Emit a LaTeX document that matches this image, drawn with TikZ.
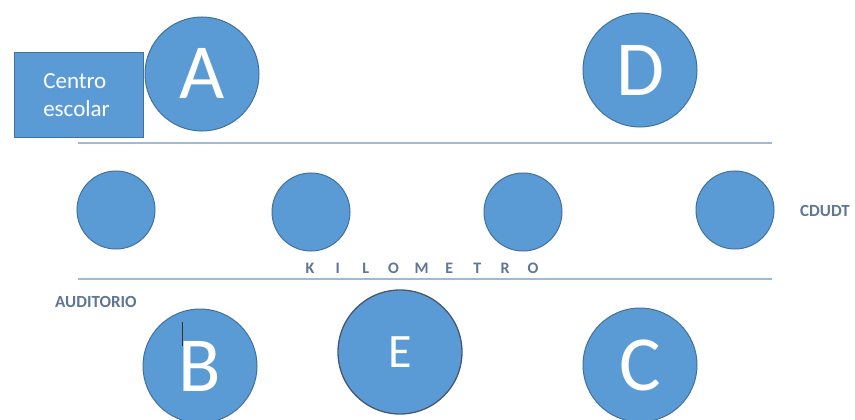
\documentclass[tikz,border=0pt]{standalone}
\usepackage{fontspec}
\setmainfont{Carlito}
\definecolor{cfill}{RGB}{91,155,213}
\definecolor{cedge}{RGB}{65,113,156}
\definecolor{lineblue}{RGB}{160,186,212}
\definecolor{labelgray}{RGB}{95,118,148}
\definecolor{eedge}{RGB}{70,90,110}
\newcommand{\kmletter}[1]{\makebox[27.9pt][c]{#1}}
\begin{document}
\begin{tikzpicture}[x=1pt,y=-1pt,
  bigcirc/.style={circle,fill=cfill,draw=cedge,line width=1pt,inner sep=0pt,
    minimum size=114pt,text=white,font=\fontsize{78}{78}\selectfont},
  smallcirc/.style={circle,fill=cfill,draw=cedge,line width=1pt,inner sep=0pt,minimum size=78pt},
  road/.style={draw=lineblue,line width=2pt},
  lbl/.style={text=labelgray,font=\fontsize{17}{17}\selectfont\bfseries,inner sep=0pt}]
\useasboundingbox (0,0) rectangle (855,420);
\fill[white] (0,0) rectangle (855,420);
% roads
\coordinate (r1a) at (78,143); \coordinate (r1b) at (772,143);
\coordinate (r2a) at (78,279); \coordinate (r2b) at (772,279);
\draw[road] (r1a) -- (r1b);
\draw[road] (r2a) -- (r2b);
% top row
\node[bigcirc] (A) at (202,74) {\raisebox{1pt}{A}};
\node[bigcirc] (D) at (640,70) {D};
\node[draw=cedge,fill=cfill,line width=1pt,minimum width=129pt,minimum height=84pt,
  inner sep=0pt,text=white,align=left,font=\fontsize{23}{28}\selectfont] (box) at (78.5,95) {Centro\\escolar\hspace*{4pt}};
% middle row
\node[smallcirc] (m1) at (116,210) {};
\node[smallcirc] (m2) at (311,212) {};
\node[smallcirc] (m3) at (523,212) {};
\node[smallcirc] (m4) at (735,210) {};
\node[lbl,anchor=west] (cdudt) at (800,211) {CDUDT};
\node[text=labelgray,inner sep=0pt,font=\fontsize{16}{16}\selectfont\bfseries] (km) at (421.5,268)
  {\kmletter{K}\kmletter{I}\kmletter{L}\kmletter{O}\kmletter{M}\kmletter{E}\kmletter{T}\kmletter{R}\kmletter{O}};
% bottom row
\node[lbl,anchor=west] (aud) at (55,302) {AUDITORIO};
\node[bigcirc] (B) at (200,366) {B};
\draw[black!80,line width=1pt] ([xshift=-18pt,yshift=44pt]B.center) -- ([xshift=-18pt,yshift=20pt]B.center);
\node[circle,fill=cfill,draw=eedge,line width=1.3pt,inner sep=0pt,minimum size=124pt,
  text=white,font=\fontsize{48}{48}\selectfont] (E) at (400,352) {E};
\node[bigcirc] (C) at (640,365) {C};
\end{tikzpicture}
\end{document}
